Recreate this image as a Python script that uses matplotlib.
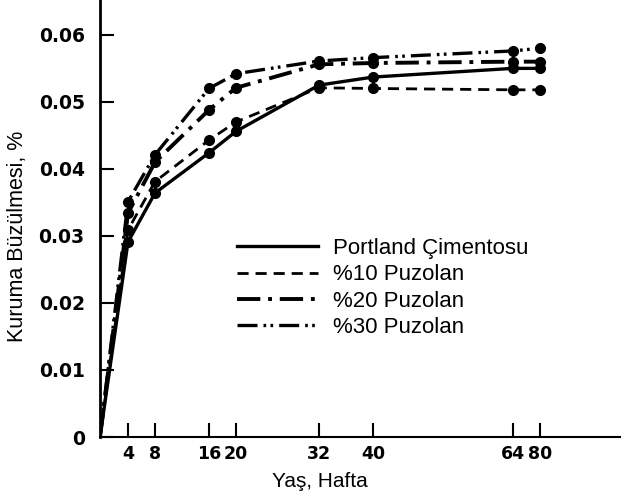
import numpy as np
import matplotlib
matplotlib.use("Agg")
import matplotlib.pyplot as plt
from matplotlib.lines import Line2D

# weeks and shrinkage values (%)
weeks = [0, 4, 8, 16, 20, 32, 40, 64, 80]
portland = [0, 0.0291, 0.0364, 0.0424, 0.0456, 0.0525, 0.0537, 0.0550, 0.0550]
puz10 = [0, 0.0309, 0.0381, 0.0443, 0.0470, 0.0521, 0.0520, 0.0518, 0.0518]
puz20 = [0, 0.0334, 0.0410, 0.0488, 0.0521, 0.0556, 0.0558, 0.0560, 0.0560]
puz30 = [0, 0.0351, 0.0421, 0.0520, 0.0542, 0.0561, 0.0566, 0.0576, 0.0580]
labels = ["Portland Çimentosu", "%10 Puzolan", "%20 Puzolan", "%30 Puzolan"]

xticks = [4, 8, 16, 20, 32, 40, 64, 80]
yticks = [0, 0.01, 0.02, 0.03, 0.04, 0.05, 0.06]
ytick_labels = ["0", "0.01", "0.02", "0.03", "0.04", "0.05", "0.06"]

# the original axis is hand drawn, not linear: map weeks to drawing position
ref_weeks = [0, 4, 8, 16, 20, 32, 40, 64, 80, 100]
ref_pos = [0, 28, 55, 109, 136, 219, 273, 413, 440, 520]


def fwd(x):
    return np.interp(x, ref_weeks, ref_pos)


def inv(y):
    return np.interp(y, ref_pos, ref_weeks)


fig = plt.figure(figsize=(6.27, 4.98), dpi=100)
ax = fig.add_axes([100/627, 61/498, 520/627, 437/498])
ax.set_xscale("function", functions=(fwd, inv))

styles = [
    dict(linestyle="-", lw=2.4),
    dict(linestyle=(0, (4, 2.5)), lw=2.0),
    dict(linestyle=(0, (6, 2, 1, 2)), lw=2.8),
    dict(linestyle=(0, (6, 1.8, 0.8, 1.3, 0.8, 1.8)), lw=2.4),
]
series = [portland, puz10, puz20, puz30]
for s, st in zip(series, styles):
    ax.plot(weeks, s, color="black", marker="o", markersize=7,
            markevery=list(range(1, len(weeks))), **st)

ax.set_xlim(0, 100)
ax.set_ylim(0, 0.0652)
ax.set_xticks(xticks)
ax.set_xticklabels([str(w) for w in xticks])
ax.set_yticks(yticks)
ax.set_yticklabels(ytick_labels)
ax.tick_params(direction="in", length=10, width=1.5)
ax.tick_params(axis="y", labelsize=13.5, pad=11)
ax.tick_params(axis="x", labelsize=12.5, pad=6)
for lab in ax.get_xticklabels() + ax.get_yticklabels():
    lab.set_fontweight("bold")
    lab.set_family("DejaVu Sans")

for side in ["top", "right"]:
    ax.spines[side].set_visible(False)
ax.spines["left"].set_linewidth(2)
ax.spines["bottom"].set_linewidth(1.5)

ax.set_xlabel("Yaş, Hafta", family="Liberation Sans", fontsize=15)
ax.set_ylabel("Kuruma Büzülmesi, %", family="Liberation Sans", fontsize=15.5)
ax.xaxis.set_label_coords(0.423, -0.08)
ax.yaxis.set_label_coords(-0.138, 0.458)

handles = [Line2D([], [], color="black", **st) for st in styles]
fig.legend(handles, labels, loc="upper left", bbox_to_anchor=(237/627, 1 - 238/498),
           frameon=False, handlelength=3.65, handletextpad=0.68, borderpad=0,
           borderaxespad=0, labelspacing=0.24,
           prop={"family": "Liberation Sans", "size": 16})

fig.savefig("out.png", dpi=100)
